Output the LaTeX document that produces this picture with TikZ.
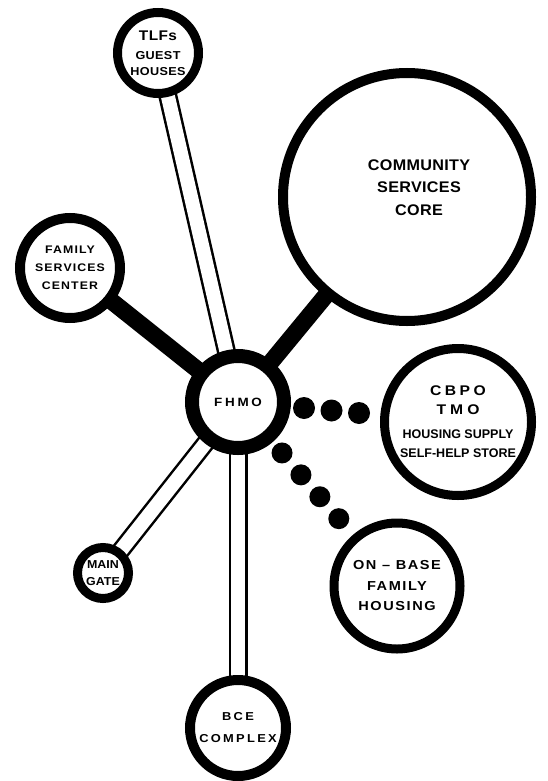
\documentclass[tikz,border=0pt]{standalone}
\usepackage{fontspec}
\setmainfont{Liberation Sans}
\usetikzlibrary{
  backgrounds,
  calc
}
\newcommand{\wide}[2]{\addfontfeatures{FakeStretch=#1, LetterSpace=#2}}
\newcommand{\fsz}[2]{\fontsize{#1}{#2}\selectfont}
\tikzset{
  %%── circles ──────────────────────────────────
  ring/.style = {
    circle, draw = black, fill = white,
    inner sep = 0pt, align = center
  },
  %%── connectors ───────────────────────────────
  bar/.style = {line width = 17pt, color = black},
  dbl/.style = {double = white, double distance = 14pt, line width = 2.5pt, color = black},
  dot/.style = {fill = black},
}
\begin{document}
\begin{tikzpicture}[x = 1pt, y = -1pt]
  \useasboundingbox (0,0) rectangle (547,781);

  %% ── centre ───────────────────────────────────
  \node[ring, minimum size = 92pt, line width = 14pt,
        font = \bfseries\fsz{12}{14}\wide{1.12}{23}] (fhmo) at (238,402) {FHMO};

  %% ── outer circles ────────────────────────────
  \node[ring, minimum size = 248pt, line width = 10pt,
        label = {[align = center, font = \bfseries\fsz{15.4}{22.5}\wide{1.05}{2},
                  xshift = 12pt, yshift = 9.5pt]center:COMMUNITY\\SERVICES\\CORE}]
    (core) at (407,197) {};
  \node[ring, minimum size = 81pt, line width = 9pt,
        font = \bfseries\fsz{11.5}{16}\wide{1.1}{3}] (tlf) at (158,53)
    {{\fsz{14}{16}TLFs}\\[3pt]GUEST\\HOUSES};
  \node[ring, minimum size = 100pt, line width = 10pt,
        font = \bfseries\fsz{11}{18}\wide{1.12}{10}] (fsc) at (70,268)
    {FAMILY\\SERVICES\\CENTER};
  \node[ring, minimum size = 147pt, line width = 9pt,
        font = \bfseries\fsz{12.5}{19}] (cbpo) at (458,422)
    {{\fsz{14}{18}\wide{1.12}{25}CBPO}\\{\fsz{14}{18}\wide{1.12}{29}TMO}\\[5pt]HOUSING SUPPLY\\SELF-HELP STORE};
  \node[ring, minimum size = 126pt, line width = 9pt,
        font = \bfseries\fsz{13}{20.5}\wide{1.12}{12}] (base) at (397,586)
    {ON – BASE\\FAMILY\\HOUSING};
  \node[ring, minimum size = 51pt, line width = 9pt,
        font = \bfseries\fsz{11.5}{17}\wide{1.08}{0}] (gate) at (103,573)
    {MAIN\\GATE};
  \node[ring, minimum size = 96pt, line width = 10pt,
        font = \bfseries\fsz{11.5}{22}\wide{1.12}{20}] (bce) at (238,728)
    {BCE\\COMPLEX};

  %% ── links ────────────────────────────────────
  \begin{scope}[on background layer]
    \draw[dbl] (tlf.center)  -- (fhmo.center);
    \draw[dbl] (gate.center) -- (fhmo.center);
    \draw[dbl] (fhmo.center) -- (bce.center);
    \draw[bar] (fsc.center)  -- (fhmo.center);
    \draw[bar] (core.center) -- (fhmo.center);
  \end{scope}

  %% dotted links
  \foreach \t in {0.30,0.425,0.55}
    \fill[dot] ($(fhmo.center)!\t!(cbpo.center)$) circle (11pt);
  \foreach \t in {0.277,0.396,0.515,0.634}
    \fill[dot] ($(fhmo.center)!\t!(base.center)$) circle (10.5pt);

\end{tikzpicture}
\end{document}
